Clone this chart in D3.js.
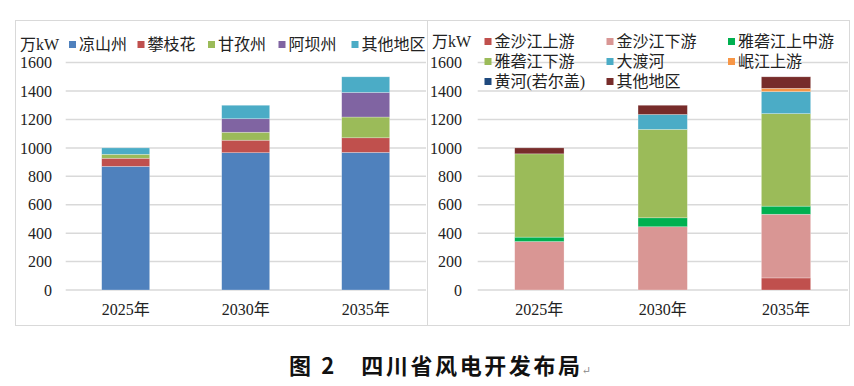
<!DOCTYPE html>
<html>
<head>
<meta charset="utf-8">
<script src="https://cdn.jsdelivr.net/npm/d3@7"></script>
<style>
  html,body{margin:0;padding:0;background:#fff;}
  svg text{font-family:"Liberation Serif","DejaVu Serif","Noto Sans CJK SC",serif;fill:#222;}
  svg text.cap{font-family:"Noto Sans CJK SC","Liberation Sans",sans-serif;font-weight:700;fill:#111;}
</style>
</head>
<body>
<svg id="fig" width="854" height="386"></svg>
<script>
// --- Data ---
const years = ["2025年", "2030年", "2035年"];
const yTicks = [0, 200, 400, 600, 800, 1000, 1200, 1400, 1600];

// left: by prefecture
const leftKeys   = ["凉山州", "攀枝花", "甘孜州", "阿坝州", "其他地区"];
const liangshan  = [870, 966, 968];
const panzhihua  = [57, 88, 103];
const ganzi      = [28, 56, 146];
const aba        = [0, 95, 173];
const otherLeft  = [45, 95, 110];
const leftColors = ["#4F81BD", "#C0504D", "#9BBB59", "#8064A2", "#4BACC6"];

// right: by river basin
const rightKeys   = ["金沙江上游", "金沙江下游", "雅砻江上中游", "雅砻江下游", "大渡河", "岷江上游", "黄河(若尔盖)", "其他地区"];
const jinshaUp    = [0, 0, 85];
const jinshaDown  = [341, 445, 448];
const yalongUpMid = [31, 63, 57];
const yalongDown  = [586, 622, 651];
const dadu        = [0, 105, 155];
const minjiang    = [0, 0, 23];
const huanghe     = [0, 0, 0];
const otherRight  = [42, 65, 81];
const rightColors = ["#C0504D", "#D99694", "#00B050", "#9BBB59", "#4BACC6", "#F79646", "#1F497D", "#772C2A"];

const leftSeries  = [liangshan, panzhihua, ganzi, aba, otherLeft];
const rightSeries = [jinshaUp, jinshaDown, yalongUpMid, yalongDown, dadu, minjiang, huanghe, otherRight];

const svg = d3.select("#fig");

// panel frames
svg.append("rect").attr("x",15.5).attr("y",20.5).attr("width",412).attr("height",305)
  .attr("fill","none").attr("stroke","#d9d9d9");
svg.append("rect").attr("x",427.5).attr("y",20.5).attr("width",422).attr("height",305)
  .attr("fill","none").attr("stroke","#d9d9d9");

function rowsFrom(keys, series){
  return years.map((yr,i)=>{
    const o = {year: yr};
    keys.forEach((k,j)=> o[k] = series[j][i]);
    return o;
  });
}

function drawPanel(opt){
  const g = svg.append("g");
  const x = d3.scaleBand().domain(years).range(opt.xRange).paddingInner(0.6).paddingOuter(0.3);
  const y = d3.scaleLinear().domain([0,1600]).range([290, 62.6]);

  // gridlines
  g.selectAll(".grid").data(yTicks).enter().append("line")
    .attr("x1", opt.xRange[0]).attr("x2", opt.gridEnd)
    .attr("y1", d=>y(d)).attr("y2", d=>y(d))
    .attr("stroke","#d9d9d9").attr("stroke-width",1.5);

  // y axis labels
  const ay = g.append("g").attr("transform",`translate(${opt.labelX},0)`)
    .call(d3.axisLeft(y).tickValues(yTicks).tickSize(0).tickPadding(0).tickFormat(d3.format("d")));
  ay.attr("font-family", null);
  ay.select(".domain").remove();
  ay.selectAll("text").attr("font-size",16);

  // x axis labels
  const ax = g.append("g").attr("transform","translate(0,303)")
    .call(d3.axisBottom(x).tickSize(0).tickPadding(0));
  ax.attr("font-family", null);
  ax.select(".domain").remove();
  ax.selectAll("text").attr("font-size",16).attr("dy","0.75em");

  // stacked bars
  const color = d3.scaleOrdinal().domain(opt.keys).range(opt.colors);
  const series = d3.stack().keys(opt.keys)(rowsFrom(opt.keys, opt.series));
  g.selectAll(".layer").data(series).enter().append("g")
    .attr("fill", d=>color(d.key))
    .selectAll("rect").data(d=>d.map(p=>({y0:p[0], y1:p[1], year:p.data.year})))
    .enter().append("rect")
    .attr("x", d=>x(d.year))
    .attr("width", x.bandwidth())
    .attr("y", d=>y(d.y1))
    .attr("height", d=>y(d.y0)-y(d.y1))
    .attr("stroke","#fff").attr("stroke-opacity",0.45).attr("stroke-width",0.6);

  // unit label
  g.append("text").attr("x", opt.unitX).attr("y", opt.legend[0].y).attr("dy","0.35em")
    .attr("font-size",16).text("万kW");

  // legend
  const items = g.selectAll(".lg").data(opt.keys).enter().append("g")
    .attr("transform",(d,i)=>`translate(${opt.legend[i].x},${opt.legend[i].y})`);
  items.append("rect").attr("x",0).attr("y",-3.5).attr("width",7).attr("height",7)
    .attr("fill", d=>color(d));
  items.append("text").attr("x",10).attr("dy","0.35em").attr("font-size",16).text(d=>d);
}

drawPanel({
  keys: leftKeys, colors: leftColors, series: leftSeries,
  xRange: [65.7, 425.7], gridEnd: 426, labelX: 52, unitX: 20,
  legend: [
    {x:69, y:44.5}, {x:137.5, y:44.5}, {x:208, y:44.5}, {x:278.5, y:44.5}, {x:351.5, y:44.5}
  ]
});

drawPanel({
  keys: rightKeys, colors: rightColors, series: rightSeries,
  xRange: [477.7, 847.7], gridEnd: 848, labelX: 462, unitX: 432,
  legend: [
    {x:484.5, y:41.5}, {x:606.5, y:41.5}, {x:728, y:41.5},
    {x:484.5, y:61.5}, {x:606.5, y:61.5}, {x:728, y:61.5},
    {x:484.5, y:81.5}, {x:606.5, y:81.5}
  ]
});

// caption
svg.append("text").attr("class","cap").attr("x",289).attr("y",366).attr("dy","0.35em")
  .attr("font-size",22).attr("textLength",291).attr("lengthAdjust","spacing")
  .text("图 2　四川省风电开发布局");
svg.append("text").attr("x",582).attr("y",370).attr("dy","0.35em")
  .attr("font-size",11).style("fill","#888").text("↵");
</script>
</body>
</html>
